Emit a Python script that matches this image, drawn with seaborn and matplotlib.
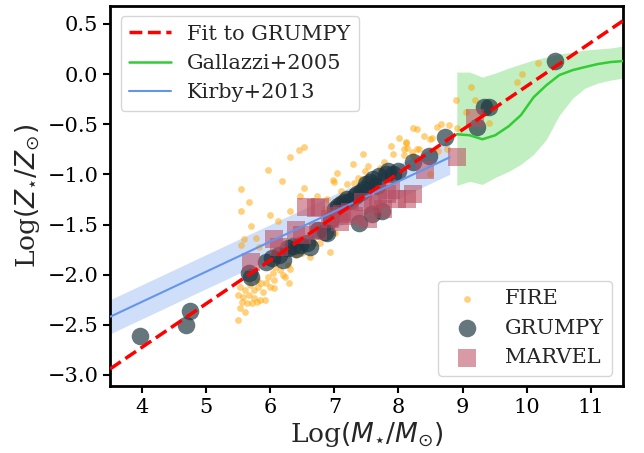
import matplotlib
matplotlib.use("Agg")
import matplotlib.pyplot as plt
import seaborn as sns
import numpy as np
import pandas as pd

# ---------------- data ----------------
fire_x = [6.52, 6.44, 6.31, 5.97, 6.19, 6.52, 5.55, 6.46, 6.73, 5.66, 5.54, 6.00, 6.31, 6.12,
          5.70, 5.59, 5.77, 5.83, 6.07, 6.62, 5.55, 6.28, 6.31, 6.29,
          5.53, 5.61, 5.68, 5.74, 5.81, 5.86, 5.94, 5.99, 6.05, 5.50, 5.58, 5.66, 5.74, 5.84,
          5.92, 5.56, 5.63, 5.71, 5.79, 5.53, 5.61, 5.50, 5.89, 5.79, 5.97, 6.05, 6.15, 6.23, 6.08,
          6.20, 6.04, 6.40, 6.50, 6.68, 6.78, 7.01, 6.93,
          6.98, 7.04, 7.11, 7.19, 7.30, 7.37, 7.43, 7.45, 7.48, 7.53, 7.71, 7.89, 7.92, 8.01,
          8.08, 8.12, 8.23, 8.29, 8.21, 8.29, 7.29, 6.99, 6.88, 7.05, 7.20, 7.35, 6.85, 7.15,
          8.67, 8.79, 8.60, 8.40, 8.49, 8.53, 8.11, 8.13, 8.08, 8.22, 8.32, 8.62, 7.77, 8.92,
          8.49, 8.75, 8.90, 9.19, 9.13, 9.06, 9.42, 9.85, 9.92, 10.18]
fire_y = [-0.73, -0.76, -0.83, -0.96, -1.07, -1.14, -1.15, -1.22, -1.22, -1.28, -1.37, -1.41, -1.37, -1.47,
          -1.51, -1.64, -1.63, -1.72, -1.78, -1.82, -1.70, -1.90, -1.94, -2.08,
          -2.12, -2.15, -2.10, -2.15, -2.12, -2.08, -2.08, -2.12, -2.05, -2.20, -2.22, -2.20, -2.23, -2.25,
          -2.25, -2.27, -2.28, -2.28, -2.27, -2.33, -2.37, -2.45, -2.17, -2.05, -2.02, -2.13, -1.95, -2.02, -1.92,
          -2.00, -1.98, -1.80, -1.78, -1.68, -1.68, -1.58, -1.77,
          -1.06, -0.99, -1.17, -1.10, -1.09, -1.04, -1.05, -0.80, -0.97, -0.92, -0.94, -0.72, -0.80, -0.64,
          -0.75, -0.68, -0.54, -0.55, -0.78, -0.75, -0.90, -1.08, -1.25, -1.25, -1.20, -1.15, -1.35, -1.30,
          -0.50, -0.51, -0.53, -0.62, -0.65, -0.64, -0.69, -0.74, -0.81, -0.82, -0.75, -0.77, -0.88, -0.54,
          -1.00, -0.75, -0.26, -0.26, -0.13, -0.38, -0.49, -0.08, 0.00, 0.11]

grumpy_x = [3.97, 4.68, 4.75, 5.66, 5.70, 5.94, 6.02, 6.14, 6.20, 6.28, 6.36, 6.46, 6.57, 6.62,
            6.75, 6.85, 6.88, 6.95, 7.01, 7.10, 7.19, 7.25, 7.32, 7.38, 7.42, 7.50, 7.58, 7.61,
            7.66, 7.74, 7.84, 7.92, 8.00, 8.23, 8.47, 8.73, 9.23, 9.33, 9.42, 10.45,
            6.40, 7.05, 7.15, 7.35, 7.46, 7.55, 7.70, 7.80]
grumpy_y = [-2.61, -2.50, -2.36, -1.98, -2.02, -1.87, -1.83, -1.80, -1.85, -1.73, -1.71, -1.70, -1.68, -1.72,
            -1.55, -1.57, -1.58, -1.45, -1.35, -1.30, -1.25, -1.27, -1.22, -1.49, -1.18, -1.10, -1.40, -1.05,
            -1.12, -1.37, -0.97, -1.00, -0.97, -0.88, -0.82, -0.63, -0.53, -0.33, -0.33, 0.13,
            -1.74, -1.32, -1.28, -1.20, -1.15, -1.08, -1.02, -1.00]

marvel_x = [5.70, 6.06, 6.14, 6.40, 6.50, 6.55, 6.72, 6.74, 6.78, 6.93, 7.03, 7.09, 7.12, 7.24,
            7.30, 7.45, 7.53, 7.60, 7.68, 7.76, 7.82, 7.89, 7.97, 8.13, 8.23, 8.41, 8.91, 9.19]
marvel_y = [-1.87, -1.64, -1.72, -1.55, -1.60, -1.33, -1.34, -1.56, -1.33, -1.45, -1.42, -1.48, -1.40, -1.38,
            -1.42, -1.28, -1.45, -1.30, -1.25, -1.35, -1.20, -1.16, -1.25, -1.25, -1.20, -0.96, -0.83, -0.44]

fit_x = [3.5, 11.5]
fit_y = [-2.94, 0.53]

kirby_x = [3.5, 8.8]
kirby_y = [-2.42, -0.83]
kirby_lo = [-2.59, -1.00]
kirby_hi = [-2.25, -0.66]

gal_x = [8.91, 9.11, 9.31, 9.51, 9.72, 9.91, 10.11, 10.31, 10.51, 10.72, 10.91, 11.11, 11.31, 11.51]
gal_y = [-0.60, -0.61, -0.65, -0.61, -0.52, -0.41, -0.23, -0.11, -0.01, 0.04, 0.07, 0.10, 0.12, 0.13]
gal_lo = [-1.11, -1.07, -1.10, -1.03, -0.97, -0.90, -0.80, -0.65, -0.41, -0.24, -0.14, -0.09, -0.06, -0.04]
gal_hi = [0.02, 0.02, -0.03, 0.01, 0.06, 0.10, 0.14, 0.17, 0.20, 0.22, 0.24, 0.25, 0.26, 0.28]

# ---------------- style ----------------
sns.set_theme(style="ticks")
plt.rcParams["font.family"] = ["DejaVu Serif"]
plt.rcParams["mathtext.fontset"] = "dejavusans"
plt.rcParams["axes.linewidth"] = 2.0
plt.rcParams["xtick.major.width"] = 1.5
plt.rcParams["ytick.major.width"] = 1.5
plt.rcParams["xtick.major.size"] = 5
plt.rcParams["ytick.major.size"] = 5
plt.rcParams["axes.edgecolor"] = "black"
plt.rcParams["xtick.color"] = "black"
plt.rcParams["ytick.color"] = "black"

fig = plt.figure(figsize=(6.44, 4.53), dpi=100)
ax = fig.add_axes([0.171, 0.148, 0.796, 0.839])

# bands
ax.fill_between(kirby_x, kirby_lo, kirby_hi, color="cornflowerblue", alpha=0.3, lw=0, zorder=1)
ax.fill_between(gal_x, gal_lo, gal_hi, color="limegreen", alpha=0.3, lw=0, zorder=1)

fire_df = pd.DataFrame({"x": fire_x, "y": fire_y})
grumpy_df = pd.DataFrame({"x": grumpy_x, "y": grumpy_y})
marvel_df = pd.DataFrame({"x": marvel_x, "y": marvel_y})

sns.scatterplot(data=fire_df, x="x", y="y", ax=ax, color="orange", alpha=0.5, s=24,
                linewidth=0, label="FIRE", zorder=2, legend=False)
sns.scatterplot(data=grumpy_df, x="x", y="y", ax=ax, color="#1c3540", alpha=0.68, s=160,
                linewidth=0, label="GRUMPY", zorder=3, legend=False)
sns.scatterplot(data=marvel_df, x="x", y="y", ax=ax, color="#b94a5e", alpha=0.55, s=180,
                marker="s", linewidth=0, label="MARVEL", zorder=4, legend=False)

l_fit, = ax.plot(fit_x, fit_y, color="red", ls="--", lw=2.5, zorder=6, label="Fit to GRUMPY")
l_gal, = ax.plot(gal_x, gal_y, color="limegreen", lw=1.8, zorder=5, label="Gallazzi+2005")
l_kir, = ax.plot(kirby_x, kirby_y, color="cornflowerblue", lw=1.5, zorder=5, label="Kirby+2013")

ax.set_xlim(3.5, 11.5)
ax.set_ylim(-3.11, 0.68)
ax.set_xticks([4, 5, 6, 7, 8, 9, 10, 11])
ax.set_yticks([-3.0, -2.5, -2.0, -1.5, -1.0, -0.5, 0.0, 0.5])
ax.tick_params(labelsize=15)
ax.set_xlabel(r"Log$(M_{\star}/M_{\odot})$", fontsize=19, labelpad=2)
ax.set_ylabel(r"Log$(Z_{\star}/Z_{\odot})$", fontsize=19, labelpad=4)

coll = ax.collections
pt_handles = [c for c in coll if c.get_label() in ("FIRE", "GRUMPY", "MARVEL")]

leg1 = ax.legend(handles=[l_fit, l_gal, l_kir], loc="upper left", fontsize=15,
                 handlelength=2.0)
ax.add_artist(leg1)
leg2 = ax.legend(handles=pt_handles, labels=[h.get_label() for h in pt_handles],
                 loc="lower right", fontsize=15)

fig.savefig("out.png", dpi=100)
